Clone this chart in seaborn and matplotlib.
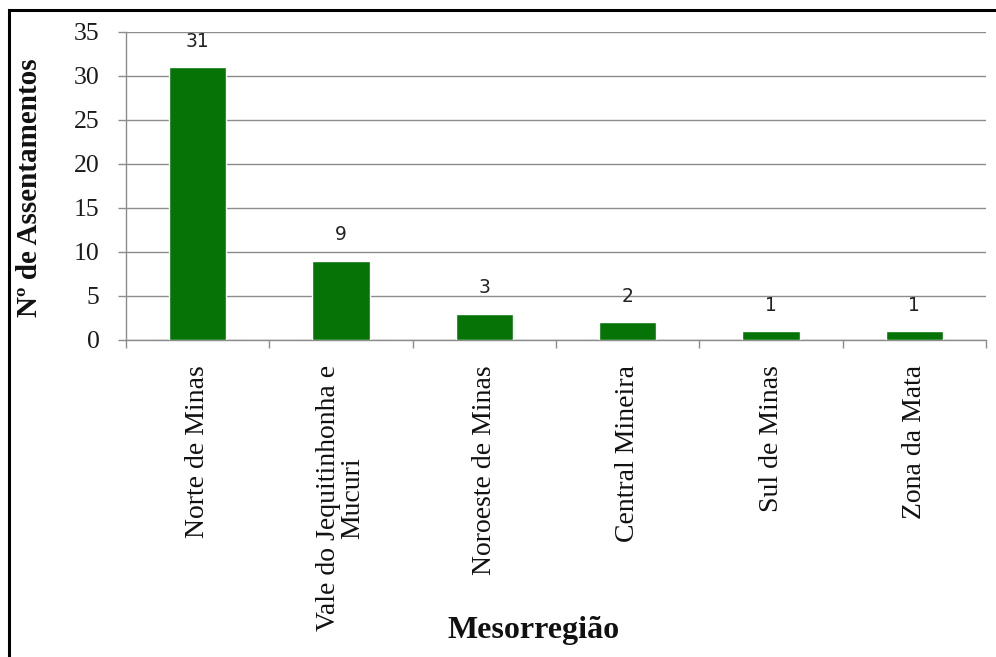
import matplotlib
matplotlib.use("Agg")
import matplotlib.pyplot as plt
import seaborn as sns
import pandas as pd
from matplotlib.patches import Rectangle
from matplotlib.ticker import FixedLocator

# Settlements per mesoregion
categories = [
    "Norte de Minas",
    "Vale do Jequitinhonha e\nMucuri",
    "Noroeste de Minas",
    "Central Mineira",
    "Sul de Minas",
    "Zona da Mata",
]
settlements = [31, 9, 3, 2, 1, 1]
y_ticks = [0, 5, 10, 15, 20, 25, 30, 35]

sns.set_theme(style="white")
plt.rcParams["font.family"] = ["Liberation Serif", "DejaVu Serif"]

W, H = 996, 657
fig = plt.figure(figsize=(W / 100, H / 100), dpi=100)
ax = fig.add_axes([126 / W, 1 - 340 / H, 860 / W, 308 / H])

df = pd.DataFrame({"Mesorregião": categories, "Assentamentos": settlements})
bar_green = "#067306"
sns.barplot(data=df, x="Mesorregião", y="Assentamentos", color=bar_green,
            saturation=1, width=0.4, ax=ax, zorder=3)

ax.set_xlim(-0.5, len(categories) - 0.5)
ax.set_ylim(0, 35)
ax.set_yticks(y_ticks)
ax.set_yticklabels([str(t) for t in y_ticks])

# horizontal gridlines
ax.yaxis.grid(True, color="#8c8c8c", linewidth=1.0, zorder=0)
ax.xaxis.grid(False)

for side in ("top", "right"):
    ax.spines[side].set_visible(False)
for side in ("left", "bottom"):
    ax.spines[side].set_color("#8c8c8c")
    ax.spines[side].set_linewidth(1.0)

# y ticks
ax.tick_params(axis="y", direction="out", length=6, width=1, color="#8c8c8c",
               pad=13, labelsize=18.5, labelcolor="#1a1a1a", left=True)

# category labels, vertical, with separator ticks between categories
ax.tick_params(axis="x", which="major", length=0, pad=18, labelsize=20,
               labelcolor="#111111", bottom=True)
for lbl in ax.get_xticklabels():
    lbl.set_rotation(90)
    lbl.set_va("top")
    lbl.set_ha("center")
    lbl.set_multialignment("center")
    lbl.set_linespacing(0.95)
ax.xaxis.set_minor_locator(FixedLocator([i - 0.5 for i in range(len(categories) + 1)]))
ax.tick_params(axis="x", which="minor", direction="out", length=6, width=1,
               color="#8c8c8c", bottom=True)

# value labels above bars
for i, v in enumerate(settlements):
    ax.annotate(str(v), xy=(i, v), xytext=(0, 12), textcoords="offset points",
                ha="center", va="bottom", fontsize=13.5, color="#222222",
                family=["DejaVu Sans"])

ax.set_xlabel("Mesorregião", fontsize=23, fontweight="bold", color="#111111")
ax.xaxis.set_label_coords(0.474, -0.895)
ax.set_ylabel("Nº de Assentamentos", fontsize=21, fontweight="bold", color="#111111")
ax.yaxis.set_label_coords(-0.097, 0.494)

# outer frame
frame = Rectangle((9 / W, -0.1), 1.2, 1 - 10 / H + 0.1, transform=fig.transFigure,
                  fill=False, edgecolor="black", linewidth=2.2, zorder=10)
fig.patches.append(frame)

fig.savefig("out.png", dpi=100, facecolor="white")
